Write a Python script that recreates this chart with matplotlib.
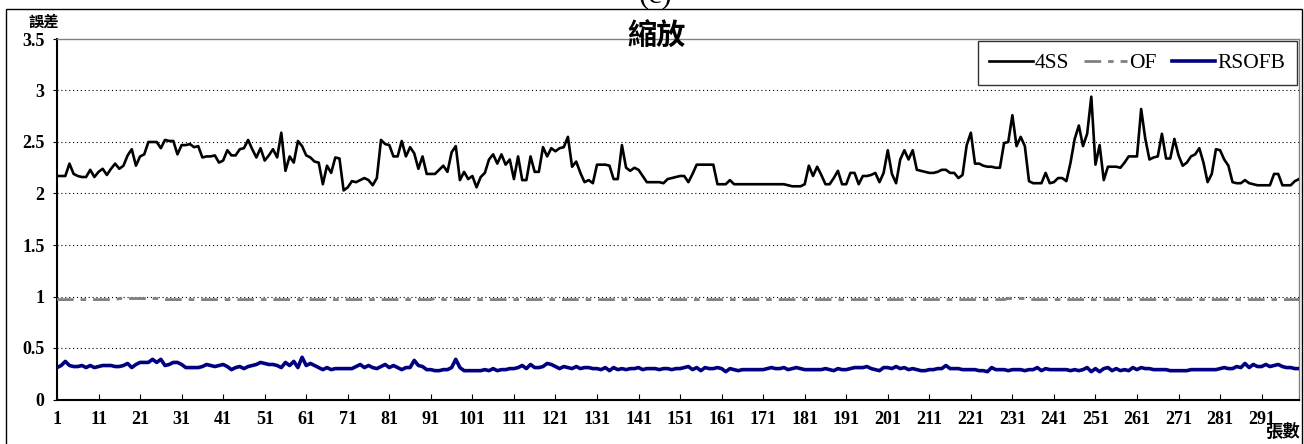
import numpy as np
import matplotlib
matplotlib.use('Agg')
import matplotlib.pyplot as plt
from matplotlib.patches import Rectangle

# error per frame for the three methods (scaling sequence)
frames = np.arange(1, 301)

ss4 = [
    2.17, 2.17, 2.17, 2.29, 2.19, 2.17, 2.16, 2.16, 2.23, 2.16,
    2.21, 2.24, 2.18, 2.24, 2.29, 2.24, 2.27, 2.37, 2.43, 2.27,
    2.36, 2.38, 2.50, 2.50, 2.50, 2.44, 2.52, 2.51, 2.51, 2.38,
    2.47, 2.47, 2.48, 2.45, 2.46, 2.35, 2.36, 2.36, 2.37, 2.30,
    2.32, 2.42, 2.37, 2.37, 2.43, 2.44, 2.52, 2.43, 2.35, 2.44,
    2.32, 2.37, 2.43, 2.35, 2.59, 2.22, 2.36, 2.30, 2.51, 2.46,
    2.37, 2.35, 2.31, 2.30, 2.09, 2.27, 2.20, 2.35, 2.34, 2.03,
    2.06, 2.12, 2.11, 2.13, 2.15, 2.13, 2.08, 2.15, 2.52, 2.48,
    2.47, 2.36, 2.36, 2.51, 2.36, 2.45, 2.39, 2.24, 2.36, 2.19,
    2.19, 2.19, 2.23, 2.27, 2.21, 2.40, 2.46, 2.13, 2.21, 2.14,
    2.17, 2.06, 2.16, 2.20, 2.33, 2.38, 2.29, 2.38, 2.28, 2.33,
    2.14, 2.36, 2.13, 2.13, 2.36, 2.21, 2.21, 2.45, 2.36, 2.44,
    2.41, 2.44, 2.45, 2.55, 2.26, 2.31, 2.20, 2.11, 2.13, 2.10,
    2.28, 2.28, 2.28, 2.27, 2.14, 2.14, 2.47, 2.25, 2.22, 2.25,
    2.23, 2.17, 2.11, 2.11, 2.11, 2.11, 2.10, 2.14, 2.15, 2.16,
    2.17, 2.17, 2.11, 2.19, 2.28, 2.28, 2.28, 2.28, 2.28, 2.09,
    2.09, 2.09, 2.13, 2.09, 2.09, 2.09, 2.09, 2.09, 2.09, 2.09,
    2.09, 2.09, 2.09, 2.09, 2.09, 2.09, 2.08, 2.07, 2.07, 2.07,
    2.09, 2.27, 2.17, 2.26, 2.18, 2.09, 2.09, 2.15, 2.22, 2.09,
    2.09, 2.20, 2.20, 2.09, 2.17, 2.17, 2.18, 2.20, 2.11, 2.20,
    2.42, 2.19, 2.10, 2.33, 2.42, 2.33, 2.42, 2.23, 2.22, 2.21,
    2.20, 2.20, 2.21, 2.23, 2.23, 2.20, 2.20, 2.15, 2.18, 2.47,
    2.59, 2.29, 2.29, 2.27, 2.26, 2.26, 2.25, 2.25, 2.49, 2.50,
    2.76, 2.46, 2.55, 2.46, 2.12, 2.10, 2.10, 2.10, 2.20, 2.10,
    2.11, 2.15, 2.15, 2.12, 2.30, 2.53, 2.66, 2.46, 2.58, 2.94,
    2.28, 2.47, 2.13, 2.26, 2.26, 2.26, 2.25, 2.30, 2.36, 2.36,
    2.36, 2.82, 2.53, 2.33, 2.35, 2.36, 2.58, 2.34, 2.34, 2.53,
    2.37, 2.27, 2.30, 2.36, 2.38, 2.44, 2.30, 2.11, 2.19, 2.43,
    2.42, 2.33, 2.27, 2.11, 2.10, 2.10, 2.13, 2.10, 2.09, 2.08,
    2.08, 2.08, 2.08, 2.19, 2.19, 2.08, 2.08, 2.08, 2.12, 2.14,
]

of = [
    0.97, 0.97, 0.97, 0.97, 0.97, 0.97, 0.97, 0.97, 0.97, 0.97,
    0.97, 0.97, 0.97, 0.97, 0.97, 0.98, 0.98, 0.98, 0.98, 0.98,
    0.98, 0.98, 0.98, 0.98, 0.98, 0.98, 0.97, 0.97, 0.97, 0.97,
    0.97, 0.97, 0.97, 0.97, 0.97, 0.97, 0.97, 0.97, 0.97, 0.97,
    0.97, 0.97, 0.97, 0.97, 0.97, 0.97, 0.97, 0.97, 0.97, 0.97,
    0.97, 0.97, 0.97, 0.97, 0.97, 0.97, 0.97, 0.97, 0.97, 0.97,
    0.97, 0.97, 0.97, 0.97, 0.97, 0.97, 0.97, 0.97, 0.97, 0.97,
    0.97, 0.97, 0.97, 0.97, 0.97, 0.97, 0.97, 0.97, 0.97, 0.97,
    0.97, 0.97, 0.97, 0.97, 0.97, 0.97, 0.97, 0.97, 0.97, 0.97,
    0.97, 0.98, 0.98, 0.97, 0.97, 0.97, 0.97, 0.97, 0.97, 0.97,
    0.97, 0.97, 0.97, 0.97, 0.97, 0.97, 0.97, 0.97, 0.97, 0.97,
    0.97, 0.97, 0.97, 0.97, 0.97, 0.97, 0.97, 0.97, 0.97, 0.97,
    0.97, 0.97, 0.97, 0.97, 0.97, 0.97, 0.97, 0.97, 0.97, 0.97,
    0.97, 0.97, 0.97, 0.97, 0.97, 0.97, 0.97, 0.97, 0.97, 0.97,
    0.97, 0.97, 0.97, 0.97, 0.97, 0.97, 0.97, 0.97, 0.97, 0.97,
    0.97, 0.97, 0.97, 0.97, 0.97, 0.97, 0.97, 0.97, 0.97, 0.97,
    0.97, 0.97, 0.97, 0.97, 0.97, 0.97, 0.97, 0.97, 0.97, 0.97,
    0.97, 0.97, 0.97, 0.97, 0.97, 0.97, 0.97, 0.97, 0.97, 0.97,
    0.97, 0.97, 0.97, 0.97, 0.97, 0.97, 0.97, 0.97, 0.97, 0.97,
    0.97, 0.97, 0.97, 0.97, 0.97, 0.97, 0.97, 0.97, 0.97, 0.97,
    0.97, 0.97, 0.97, 0.97, 0.97, 0.97, 0.97, 0.97, 0.97, 0.97,
    0.97, 0.97, 0.97, 0.97, 0.97, 0.97, 0.97, 0.97, 0.97, 0.97,
    0.97, 0.97, 0.97, 0.97, 0.97, 0.97, 0.97, 0.97, 0.97, 0.98,
    0.98, 0.98, 0.98, 0.98, 0.98, 0.97, 0.97, 0.97, 0.97, 0.97,
    0.97, 0.97, 0.97, 0.97, 0.97, 0.97, 0.97, 0.97, 0.97, 0.97,
    0.97, 0.97, 0.97, 0.97, 0.97, 0.97, 0.97, 0.97, 0.97, 0.97,
    0.97, 0.97, 0.97, 0.97, 0.97, 0.97, 0.97, 0.97, 0.97, 0.97,
    0.97, 0.97, 0.97, 0.97, 0.97, 0.97, 0.97, 0.97, 0.97, 0.97,
    0.97, 0.97, 0.97, 0.97, 0.97, 0.97, 0.97, 0.97, 0.97, 0.97,
    0.97, 0.97, 0.97, 0.97, 0.97, 0.97, 0.97, 0.97, 0.97, 0.97,
]

rsofb = [
    0.31, 0.33, 0.37, 0.33, 0.32, 0.32, 0.33, 0.31, 0.33, 0.31,
    0.32, 0.33, 0.33, 0.33, 0.32, 0.32, 0.33, 0.35, 0.31, 0.34,
    0.36, 0.36, 0.36, 0.39, 0.36, 0.39, 0.33, 0.34, 0.36, 0.36,
    0.34, 0.31, 0.31, 0.31, 0.31, 0.32, 0.34, 0.33, 0.32, 0.33,
    0.34, 0.32, 0.29, 0.31, 0.32, 0.30, 0.32, 0.33, 0.34, 0.36,
    0.35, 0.34, 0.34, 0.33, 0.31, 0.36, 0.33, 0.37, 0.31, 0.41,
    0.33, 0.35, 0.33, 0.31, 0.29, 0.31, 0.29, 0.30, 0.30, 0.30,
    0.30, 0.30, 0.32, 0.34, 0.31, 0.33, 0.31, 0.30, 0.32, 0.34,
    0.31, 0.33, 0.31, 0.29, 0.31, 0.31, 0.38, 0.33, 0.32, 0.29,
    0.29, 0.28, 0.28, 0.29, 0.29, 0.31, 0.39, 0.31, 0.28, 0.28,
    0.28, 0.28, 0.28, 0.29, 0.28, 0.30, 0.28, 0.29, 0.29, 0.30,
    0.30, 0.31, 0.33, 0.30, 0.34, 0.31, 0.31, 0.32, 0.35, 0.34,
    0.32, 0.30, 0.32, 0.31, 0.30, 0.32, 0.30, 0.31, 0.31, 0.30,
    0.30, 0.29, 0.31, 0.28, 0.31, 0.29, 0.30, 0.29, 0.30, 0.30,
    0.31, 0.29, 0.30, 0.30, 0.30, 0.29, 0.30, 0.30, 0.29, 0.30,
    0.30, 0.31, 0.32, 0.29, 0.31, 0.28, 0.31, 0.30, 0.30, 0.31,
    0.30, 0.27, 0.30, 0.29, 0.28, 0.29, 0.29, 0.29, 0.29, 0.29,
    0.29, 0.30, 0.31, 0.30, 0.30, 0.31, 0.29, 0.30, 0.31, 0.30,
    0.29, 0.29, 0.29, 0.29, 0.29, 0.30, 0.29, 0.28, 0.30, 0.29,
    0.29, 0.30, 0.31, 0.31, 0.31, 0.32, 0.30, 0.29, 0.28, 0.31,
    0.31, 0.30, 0.32, 0.30, 0.31, 0.29, 0.30, 0.29, 0.28, 0.28,
    0.29, 0.29, 0.30, 0.30, 0.33, 0.30, 0.30, 0.30, 0.29, 0.29,
    0.29, 0.29, 0.28, 0.28, 0.27, 0.31, 0.29, 0.29, 0.29, 0.28,
    0.29, 0.29, 0.29, 0.28, 0.29, 0.29, 0.31, 0.28, 0.30, 0.29,
    0.29, 0.29, 0.29, 0.29, 0.28, 0.29, 0.28, 0.29, 0.31, 0.27,
    0.30, 0.27, 0.30, 0.31, 0.28, 0.30, 0.28, 0.29, 0.28, 0.31,
    0.29, 0.31, 0.30, 0.30, 0.29, 0.29, 0.29, 0.29, 0.28, 0.28,
    0.28, 0.28, 0.28, 0.29, 0.29, 0.29, 0.29, 0.29, 0.29, 0.29,
    0.30, 0.31, 0.30, 0.30, 0.32, 0.31, 0.35, 0.31, 0.34, 0.32,
    0.32, 0.34, 0.32, 0.33, 0.34, 0.32, 0.31, 0.31, 0.30, 0.30,
]

series_names = ['4SS', 'OF', 'RSOFB']
xtick_vals = list(range(1, 300, 10))
ytick_vals = [0, 0.5, 1, 1.5, 2, 2.5, 3, 3.5]
ytick_labels = ['0', '0.5', '1', '1.5', '2', '2.5', '3', '3.5']

serif = 'Liberation Serif'
cjk = ['Noto Sans CJK TC', 'DejaVu Sans']

fig = plt.figure(figsize=(13.04, 4.44), dpi=100)
ax = fig.add_axes([57 / 1304, 1 - 399.5 / 444, 1242 / 1304, 360.5 / 444])

ax.plot(frames, ss4, color='black', lw=1.9, label=series_names[0], zorder=3)
ax.plot(frames, of, color='#808080', lw=2.0, dashes=(6, 2.5, 2, 2.5),
        label=series_names[1], zorder=3)
ax.plot(frames, rsofb, color='#000080', lw=2.6, label=series_names[2], zorder=4)

ax.set_xlim(1, 300)
ax.set_ylim(0, 3.5)
ax.set_xticks(xtick_vals)
ax.set_xticklabels([str(v) for v in xtick_vals], fontfamily=serif,
                   fontweight='bold', fontsize=13)
ax.set_yticks(ytick_vals)
ax.set_yticklabels(ytick_labels, fontfamily=serif, fontweight='bold', fontsize=13)
ax.tick_params(axis='x', direction='in', length=4, width=0.8, pad=8)
ax.tick_params(axis='y', direction='out', length=3, width=0.8, pad=6)

# dotted horizontal grid
for y in ytick_vals[1:-1]:
    ax.axhline(y, color='black', lw=0.8, ls=(0, (1, 2.5)), zorder=1)

ax.spines['left'].set_linewidth(1.5)
ax.spines['bottom'].set_linewidth(1.5)
ax.spines['top'].set_color('#808080')
ax.spines['right'].set_color('#808080')
ax.spines['top'].set_linewidth(1.0)
ax.spines['right'].set_linewidth(1.0)

leg = ax.legend(loc='upper right', ncol=3, frameon=True, fancybox=False,
                borderaxespad=0.1, handlelength=2.0, handletextpad=0.1,
                columnspacing=0.7, borderpad=0.55,
                prop={'family': serif, 'size': 15.5})
leg.get_frame().set_edgecolor('black')
leg.get_frame().set_linewidth(1.0)

# texts around the axes
fig.text(657 / 1304, 1 - 36 / 444, '縮放', ha='center', va='center',
         fontsize=21, fontweight='bold', family=cjk)
fig.text(44 / 1304, 1 - 22 / 444, '誤差', ha='center', va='center',
         fontsize=11, fontweight='bold', family=cjk)
fig.text(1283 / 1304, 1 - 432 / 444, '張數', ha='center', va='center',
         fontsize=12.5, fontweight='bold', family=cjk)
fig.text(655 / 1304, 1 - 2 / 444, '(c)', ha='center', va='baseline',
         fontsize=22, family=serif)

# outer chart border
fig.patches.append(Rectangle((6 / 1304, -0.02), 1296 / 1304, 1.02 - 9 / 444,
                             transform=fig.transFigure, fill=False,
                             edgecolor='black', lw=1.0))

fig.savefig('out.png', dpi=100)
